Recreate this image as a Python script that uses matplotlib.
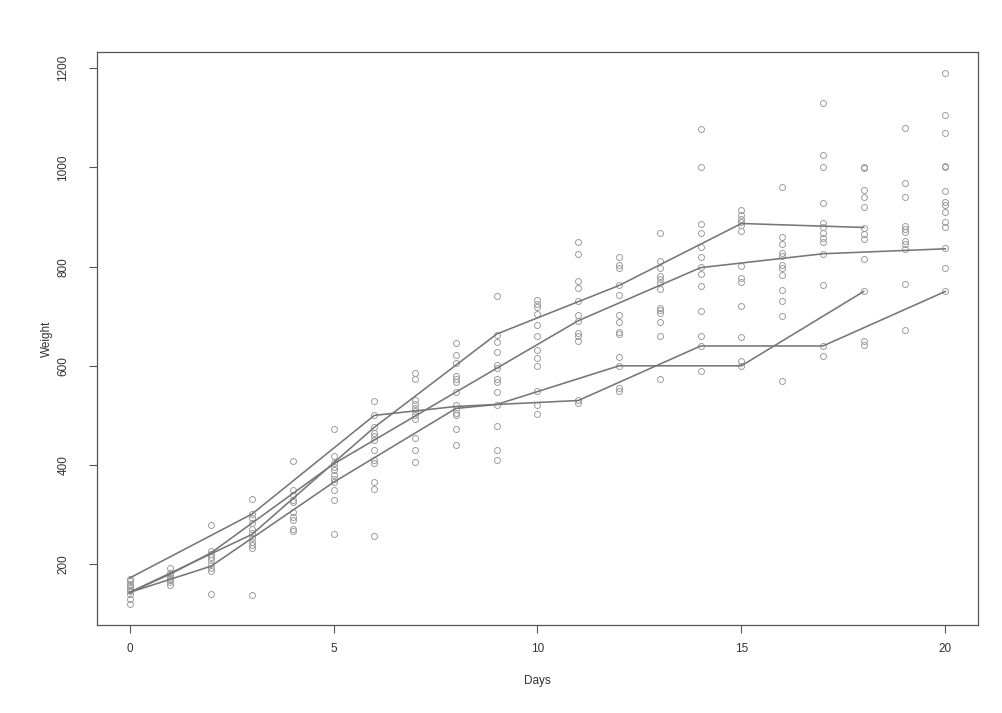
import matplotlib
matplotlib.use("Agg")
import matplotlib.pyplot as plt

# Measured weights, one list per day (days 0..20)
days = list(range(21))
w_d00 = [170, 165, 160, 155, 152, 148, 145, 140, 130, 120]
w_d01 = [192, 183, 178, 173, 168, 163, 158]
w_d02 = [278, 226, 220, 214, 208, 200, 192, 187, 140]
w_d03 = [332, 301, 293, 282, 271, 262, 252, 245, 238, 233, 138]
w_d04 = [408, 350, 340, 330, 326, 305, 295, 288, 270, 266]
w_d05 = [472, 419, 403, 396, 389, 380, 372, 365, 350, 330, 260]
w_d06 = [529, 500, 476, 465, 458, 450, 430, 410, 403, 365, 352, 257]
w_d07 = [585, 573, 532, 522, 515, 508, 500, 493, 455, 430, 405]
w_d08 = [645, 622, 606, 580, 574, 568, 547, 520, 512, 505, 500, 473, 441]
w_d09 = [740, 662, 649, 627, 601, 596, 573, 568, 547, 520, 478, 430, 410]
w_d10 = [732, 725, 718, 704, 683, 661, 632, 616, 600, 549, 520, 502]
w_d11 = [850, 825, 772, 756, 730, 702, 691, 667, 660, 651, 532, 525]
w_d12 = [820, 804, 798, 762, 743, 703, 689, 669, 664, 618, 600, 555, 550]
w_d13 = [868, 812, 798, 782, 775, 768, 754, 717, 712, 706, 689, 660, 573]
w_d14 = [1078, 1000, 885, 868, 840, 820, 800, 785, 760, 710, 660, 640, 590]
w_d15 = [915, 905, 897, 890, 884, 872, 802, 777, 770, 720, 659, 610, 600]
w_d16 = [961, 860, 845, 828, 822, 804, 798, 783, 752, 730, 701, 569]
w_d17 = [1130, 1025, 1000, 928, 888, 880, 868, 858, 850, 825, 762, 640, 620]
w_d18 = [1000, 998, 955, 940, 920, 878, 865, 855, 815, 750, 650, 642]
w_d19 = [1080, 968, 940, 882, 876, 870, 851, 845, 835, 764, 672]
w_d20 = [1190, 1105, 1070, 1003, 1000, 952, 930, 925, 910, 890, 880, 838, 798, 750]
day_weights = [w_d00, w_d01, w_d02, w_d03, w_d04, w_d05, w_d06, w_d07,
               w_d08, w_d09, w_d10, w_d11, w_d12, w_d13, w_d14, w_d15,
               w_d16, w_d17, w_d18, w_d19, w_d20]

# Group curves
line_a_days = [0, 3, 6, 9, 12, 15, 18]
line_a_wt = [143, 260, 476, 664, 762, 887, 879]
line_b_days = [0, 1, 2, 5, 8, 11, 14, 17, 20]
line_b_wt = [143, 180, 223, 402, 547, 691, 798, 826, 836]
line_c_days = [0, 2, 5, 8, 9, 12, 15, 18]
line_c_wt = [143, 196, 365, 514, 522, 600, 600, 750]
line_d_days = [0, 3, 6, 8, 9, 11, 14, 17, 20]
line_d_wt = [172, 301, 500, 518, 522, 530, 640, 640, 750]

x_ticks = [0, 5, 10, 15, 20]
y_ticks = [200, 400, 600, 800, 1000, 1200]

plt.rcParams["font.family"] = ["Liberation Sans", "DejaVu Sans"]
text_col = "#333333"

fig = plt.figure(figsize=(10.02, 7.13), dpi=100)
ax = fig.add_axes([0.0968, 0.1234, 0.8792, 0.8036])

# Points
xs, ys = [], []
for d, ws in zip(days, day_weights):
    xs += [d] * len(ws)
    ys += ws
ax.plot(xs, ys, linestyle="none", marker="o", markersize=4.3,
        markerfacecolor="none", markeredgecolor="#9d9d9d",
        markeredgewidth=0.7)

# Lines
for lx, ly in [(line_a_days, line_a_wt), (line_b_days, line_b_wt),
               (line_c_days, line_c_wt), (line_d_days, line_d_wt)]:
    ax.plot(lx, ly, color="#767676", linewidth=1.15)

# R-like limits (4% padding)
ymin, ymax = min(ys), max(ys)
pad = 0.04 * (ymax - ymin)
ax.set_xlim(-0.8, 20.8)
ax.set_ylim(ymin - pad, ymax + pad)

ax.set_xticks(x_ticks)
ax.set_yticks(y_ticks)
ax.tick_params(axis="both", direction="out", length=6, width=0.8,
               color="#555555", labelsize=8.5, labelcolor=text_col)
ax.tick_params(axis="x", pad=7)
ax.tick_params(axis="y", pad=14)
for lab in ax.get_yticklabels():
    lab.set_rotation(90)
    lab.set_va("center")

for sp in ax.spines.values():
    sp.set_color("#555555")
    sp.set_linewidth(0.9)

ax.set_xlabel("Days", fontsize=8.5, color=text_col)
ax.set_ylabel("Weight", fontsize=8.5, color=text_col)
ax.xaxis.set_label_coords(0.5, -0.087)
ax.yaxis.set_label_coords(-0.05, 0.5)

fig.savefig("out.png", dpi=100)
